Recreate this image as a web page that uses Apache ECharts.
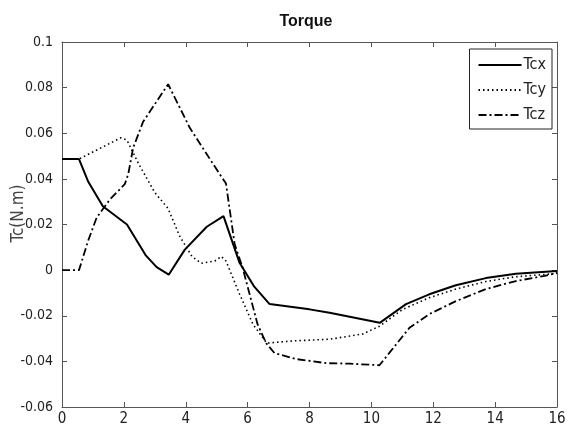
<!DOCTYPE html>
<html><head><meta charset="utf-8">
<script src="https://cdn.jsdelivr.net/npm/echarts@6/dist/echarts.min.js"></script>
<style>html,body{margin:0;padding:0;background:#fff}#c{width:571px;height:428px}</style>
</head><body><div id="c"></div>
<script>
var xTicks = [0, 2, 4, 6, 8, 10, 12, 14, 16];
var yTicks = [-0.06, -0.04, -0.02, 0, 0.02, 0.04, 0.06, 0.08, 0.1];

var tcxTime  = [0, 0.55, 0.84, 1.32, 2.1, 2.7, 3.06, 3.45, 3.97, 4.68, 5.22, 5.74, 6.2, 6.71, 8.0, 8.65, 10.27, 11.12, 11.87, 12.73, 13.7, 14.67, 16];
var tcxValue = [0.0487, 0.0487, 0.039, 0.028, 0.020, 0.0066, 0.0013, -0.002, 0.009, 0.019, 0.0237, 0.0032, -0.007, -0.0149, -0.0172, -0.0187, -0.0231, -0.0149, -0.0106, -0.0066, -0.0035, -0.0016, -0.0004];

var tcyTime  = [0, 0.55, 1.9, 2.1, 2.46, 3.0, 3.43, 3.8, 4.2, 4.5, 4.94, 5.15, 5.3, 5.74, 6.17, 6.62, 7.5, 8.65, 9.72, 10.26, 11.0, 11.87, 12.73, 13.7, 14.67, 16];
var tcyValue = [0.0487, 0.0487, 0.058, 0.057, 0.047, 0.034, 0.027, 0.015, 0.006, 0.003, 0.004, 0.006, 0.004, -0.0105, -0.0237, -0.032, -0.031, -0.0303, -0.028, -0.0246, -0.0173, -0.0121, -0.0083, -0.005, -0.0029, -0.0015];

var tczTime  = [0, 0.55, 0.84, 1.12, 1.55, 2.03, 2.14, 2.3, 2.62, 3.43, 4.13, 5.1, 5.3, 5.58, 5.84, 6.32, 6.6, 6.87, 7.58, 8.55, 9.3, 10.26, 10.58, 11.23, 11.87, 12.73, 13.7, 14.67, 15.6, 16];
var tczValue = [0, 0, 0.0127, 0.023, 0.031, 0.0377, 0.042, 0.0536, 0.065, 0.0815, 0.0624, 0.042, 0.038, 0.0114, 0.001, -0.0237, -0.032, -0.0364, -0.039, -0.0408, -0.041, -0.0417, -0.0363, -0.0253, -0.0193, -0.0136, -0.0083, -0.0048, -0.0025, -0.0012];

function pairs(t, v) { return t.map(function (x, i) { return [x, v[i]]; }); }

var FONT = "'DejaVu Sans Condensed', 'Liberation Sans', sans-serif";
var TFONT = "'Liberation Sans', Arial, sans-serif";
var axisCol = '#555';
function fmtY(v) { return String(+v.toFixed(2)); }

var chart = echarts.init(document.getElementById('c'), null, { renderer: 'canvas' });
var baseX = { type: 'value', min: xTicks[0], max: xTicks[xTicks.length - 1], interval: xTicks[1] - xTicks[0],
  splitLine: { show: false }, axisLine: { onZero: false, lineStyle: { color: axisCol, width: 1 } },
  axisTick: { inside: true, length: 5, lineStyle: { color: axisCol } } };
var baseY = { type: 'value', min: yTicks[0], max: yTicks[yTicks.length - 1], interval: 0.02,
  splitLine: { show: false }, axisLine: { onZero: false, lineStyle: { color: axisCol, width: 1 } },
  axisTick: { inside: true, length: 5, lineStyle: { color: axisCol } } };

chart.setOption({
  animation: false,
  backgroundColor: '#fff',
  title: { text: 'Torque', left: 301, textAlign: 'center', top: 9,
    textStyle: { fontFamily: TFONT, fontSize: 16, fontWeight: 'bold', color: '#111' } },
  grid: { left: 62, right: 14, top: 42, bottom: 21, show: false, containLabel: false, outerBoundsMode: 'none' },
  legend: {
    orient: 'vertical', right: 19, top: 49,
    itemWidth: 43, itemHeight: 10, itemGap: 9,
    padding: [8, 6, 6, 8],
    borderColor: '#222', borderWidth: 1, backgroundColor: '#fff',
    itemStyle: { opacity: 0 },
    textStyle: { fontFamily: FONT, fontSize: 16, color: '#222', padding: [0, 0, 0, -3] },
    data: ['Tcx', 'Tcy', 'Tcz']
  },
  xAxis: [
    Object.assign({}, baseX, { position: 'bottom',
      axisLabel: { fontFamily: FONT, fontSize: 15, color: '#222', margin: 5 } }),
    Object.assign({}, baseX, { position: 'top', axisLabel: { show: false } })
  ],
  yAxis: [
    Object.assign({}, baseY, { position: 'left', name: 'Tc(N.m)', nameLocation: 'middle', nameGap: 35,
      nameMoveOverlap: false,
      nameTextStyle: { fontFamily: FONT, fontSize: 17, color: '#444', padding: [0, 0, 0, 22] },
      axisLabel: { fontFamily: FONT, fontSize: 14, color: '#222', margin: 9, formatter: fmtY } }),
    Object.assign({}, baseY, { position: 'right', axisLabel: { show: false } })
  ],
  series: [
    { name: 'Tcx', type: 'line', xAxisIndex: 0, yAxisIndex: 0, symbol: 'none', smooth: false,
      data: pairs(tcxTime, tcxValue), color: '#000',
      lineStyle: { color: '#000', width: 2, type: 'solid' } },
    { name: 'Tcy', type: 'line', xAxisIndex: 0, yAxisIndex: 0, symbol: 'none', smooth: false,
      data: pairs(tcyTime, tcyValue), color: '#000',
      lineStyle: { color: '#000', width: 1.6, type: [1.5, 3] } },
    { name: 'Tcz', type: 'line', xAxisIndex: 0, yAxisIndex: 0, symbol: 'none', smooth: false,
      data: pairs(tczTime, tczValue), color: '#000',
      lineStyle: { color: '#000', width: 1.8, type: [8, 3, 2, 3] } }
  ]
});
</script></body></html>
